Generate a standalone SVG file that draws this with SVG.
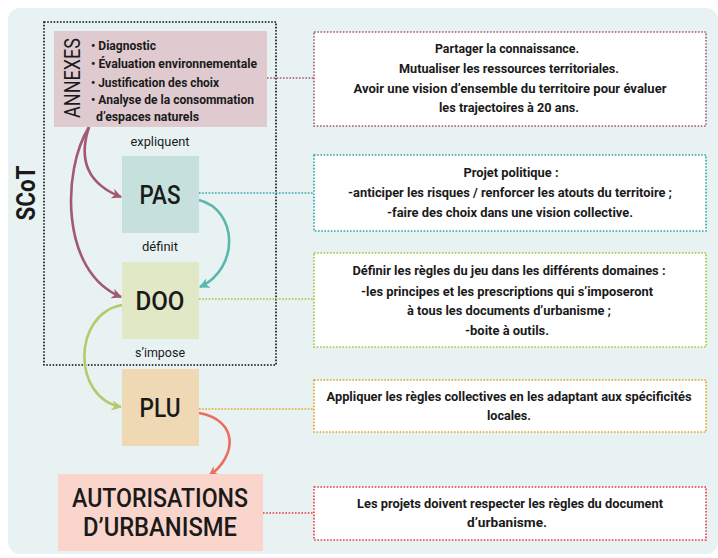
<svg xmlns="http://www.w3.org/2000/svg" width="718" height="558" viewBox="0 0 718 558">
<style>
  text { font-family: Roboto,"Liberation Sans",sans-serif; fill:#1a1a1a; }
  .desc { font-size:13.5px; font-weight:bold; text-anchor:middle; }
  .lbl { font-size:13.5px; text-anchor:middle; }
  .big { font-size:26px; font-weight:500; text-anchor:middle; }
  .bul { font-size:13px; font-weight:bold; }
  .dbox { fill:#ffffff; stroke-width:1.6; stroke-dasharray:1.6 1.6; }
  .dl { fill:none; stroke-width:1.6; stroke-dasharray:1.6 1.6; }
  .arr { fill:none; stroke-width:2.6; }
</style>
<defs>
  <marker id="mM" viewBox="0 0 10 10" refX="9" refY="5" markerWidth="4" markerHeight="4" orient="auto" markerUnits="strokeWidth"><path d="M0,0 L10,5 L0,10 L3,5 Z" fill="#a35a70"/></marker>
  <marker id="mT" viewBox="0 0 10 10" refX="9" refY="5" markerWidth="4" markerHeight="4" orient="auto" markerUnits="strokeWidth"><path d="M0,0 L10,5 L0,10 L3,5 Z" fill="#5bb7ae"/></marker>
  <marker id="mG" viewBox="0 0 10 10" refX="9" refY="5" markerWidth="4" markerHeight="4" orient="auto" markerUnits="strokeWidth"><path d="M0,0 L10,5 L0,10 L3,5 Z" fill="#b5cb6b"/></marker>
  <marker id="mR" viewBox="0 0 10 10" refX="9" refY="5" markerWidth="4" markerHeight="4" orient="auto" markerUnits="strokeWidth"><path d="M0,0 L10,5 L0,10 L3,5 Z" fill="#ef6b5c"/></marker>
</defs>
<rect x="0" y="0" width="718" height="558" fill="#ffffff"/>
<rect x="8" y="8" width="710" height="546" rx="12" fill="#e8f2f3"/>

<g id="scot">
  <rect x="44" y="22" width="232" height="343" fill="none" stroke="#111" stroke-width="1.6" stroke-dasharray="1.6 1.6"/>
  <text transform="translate(35,193) rotate(-90)" style="font-size:25px;font-weight:bold;text-anchor:middle" textLength="55" lengthAdjust="spacingAndGlyphs">SCoT</text>
</g>

<g id="connectors">
  <line class="dl" x1="267" y1="78" x2="314" y2="78" stroke="#a35a70"/>
  <line class="dl" x1="199" y1="193" x2="314" y2="193" stroke="#2aa7a5"/>
  <line class="dl" x1="199" y1="299" x2="314" y2="299" stroke="#a5c23a"/>
  <line class="dl" x1="199" y1="409" x2="314" y2="409" stroke="#e5a21f"/>
  <line class="dl" x1="263" y1="513" x2="314" y2="513" stroke="#e8393d"/>
  <path class="arr" stroke="#a35a70" d="M89 127 C78 160 88 184 121 197" marker-end="url(#mM)"/>
  <path class="arr" stroke="#a35a70" d="M89 127 C62 170 60 272 121 297" marker-end="url(#mM)"/>
  <path class="arr" stroke="#5bb7ae" d="M199 200 C238 210 240 268 200 287" marker-end="url(#mT)"/>
  <path class="arr" stroke="#b5cb6b" d="M122 305 C72 314 72 398 121 407" marker-end="url(#mG)"/>
  <path class="arr" stroke="#ef6b5c" d="M199 413 C238 420 238 455 209 476" marker-end="url(#mR)"/>
  <text class="lbl" x="160" y="146" textLength="59" lengthAdjust="spacingAndGlyphs">expliquent</text>
  <text class="lbl" x="160" y="251" textLength="36" lengthAdjust="spacingAndGlyphs">définit</text>
  <text class="lbl" x="160" y="357" textLength="50" lengthAdjust="spacingAndGlyphs">s’impose</text>
</g>

<g id="annexes">
  <rect x="54" y="31" width="213" height="96" fill="#dfcad0"/>
  <text transform="translate(80,78) rotate(-90)" style="font-size:22px;font-weight:400;text-anchor:middle" textLength="80" lengthAdjust="spacingAndGlyphs">ANNEXES</text>
  <text class="bul" x="91" y="50" textLength="65" lengthAdjust="spacingAndGlyphs">• Diagnostic</text>
  <text class="bul" x="91" y="68" textLength="166" lengthAdjust="spacingAndGlyphs">• Évaluation environnementale</text>
  <text class="bul" x="91" y="87" textLength="128" lengthAdjust="spacingAndGlyphs">• Justification des choix</text>
  <text class="bul" x="91" y="104" textLength="163" lengthAdjust="spacingAndGlyphs">• Analyse de la consommation</text>
  <text class="bul" x="96" y="121" textLength="103" lengthAdjust="spacingAndGlyphs">d’espaces naturels</text>
</g>

<g id="pas">
  <rect x="122" y="156" width="77" height="77" fill="#c5e0dd"/>
  <text class="big" x="160" y="204" textLength="41" lengthAdjust="spacingAndGlyphs">PAS</text>
</g>
<g id="doo">
  <rect x="122" y="262" width="77" height="77" fill="#e1e8c6"/>
  <text class="big" x="160" y="310" textLength="49" lengthAdjust="spacingAndGlyphs">DOO</text>
</g>
<g id="plu">
  <rect x="122" y="369" width="77" height="77" fill="#efd9b5"/>
  <text class="big" x="160" y="417" textLength="41" lengthAdjust="spacingAndGlyphs">PLU</text>
</g>
<g id="autorisations">
  <rect x="58" y="474" width="205" height="77" fill="#f9d5cc"/>
  <text class="big" x="160" y="507" textLength="176" lengthAdjust="spacingAndGlyphs">AUTORISATIONS</text>
  <text class="big" x="160" y="536" textLength="154" lengthAdjust="spacingAndGlyphs">D’URBANISME</text>
</g>

<g id="desc-annexes">
  <rect class="dbox" x="314" y="32" width="392" height="94" stroke="#a35a70"/>
  <text class="desc" x="507" y="53" textLength="144" lengthAdjust="spacingAndGlyphs">Partager la connaissance.</text>
  <text class="desc" x="509" y="73" textLength="220" lengthAdjust="spacingAndGlyphs">Mutualiser les ressources territoriales.</text>
  <text class="desc" x="510" y="93" textLength="313" lengthAdjust="spacingAndGlyphs">Avoir une vision d’ensemble du territoire pour évaluer</text>
  <text class="desc" x="509" y="112" textLength="140" lengthAdjust="spacingAndGlyphs">les trajectoires à 20 ans.</text>
</g>
<g id="desc-pas">
  <rect class="dbox" x="314" y="155" width="392" height="76" stroke="#2aa7a5"/>
  <text class="desc" x="511" y="177" textLength="95" lengthAdjust="spacingAndGlyphs">Projet politique :</text>
  <text class="desc" x="510" y="197" textLength="324" lengthAdjust="spacingAndGlyphs">-anticiper les risques / renforcer les atouts du territoire ;</text>
  <text class="desc" x="510" y="217" textLength="246" lengthAdjust="spacingAndGlyphs">-faire des choix dans une vision collective.</text>
</g>
<g id="desc-doo">
  <rect class="dbox" x="314" y="253" width="392" height="94" stroke="#a5c23a"/>
  <text class="desc" x="509" y="275" textLength="313" lengthAdjust="spacingAndGlyphs">Définir les règles du jeu dans les différents domaines :</text>
  <text class="desc" x="507" y="296" textLength="292" lengthAdjust="spacingAndGlyphs">-les principes et les prescriptions qui s’imposeront</text>
  <text class="desc" x="509" y="315" textLength="204" lengthAdjust="spacingAndGlyphs">à tous les documents d’urbanisme ;</text>
  <text class="desc" x="507" y="335" textLength="84" lengthAdjust="spacingAndGlyphs">-boite à outils.</text>
</g>
<g id="desc-plu">
  <rect class="dbox" x="314" y="380" width="392" height="52" stroke="#e5a21f"/>
  <text class="desc" x="509" y="401" style="font-size:12.5px" textLength="365" lengthAdjust="spacingAndGlyphs">Appliquer les règles collectives en les adaptant aux spécificités</text>
  <text class="desc" x="509" y="420" textLength="44" lengthAdjust="spacingAndGlyphs">locales.</text>
</g>
<g id="desc-autorisations">
  <rect class="dbox" x="314" y="487" width="392" height="53" stroke="#e8393d"/>
  <text class="desc" x="510" y="508" textLength="306" lengthAdjust="spacingAndGlyphs">Les projets doivent respecter les règles du document</text>
  <text class="desc" x="507" y="527" textLength="80" lengthAdjust="spacingAndGlyphs">d’urbanisme.</text>
</g>
</svg>
